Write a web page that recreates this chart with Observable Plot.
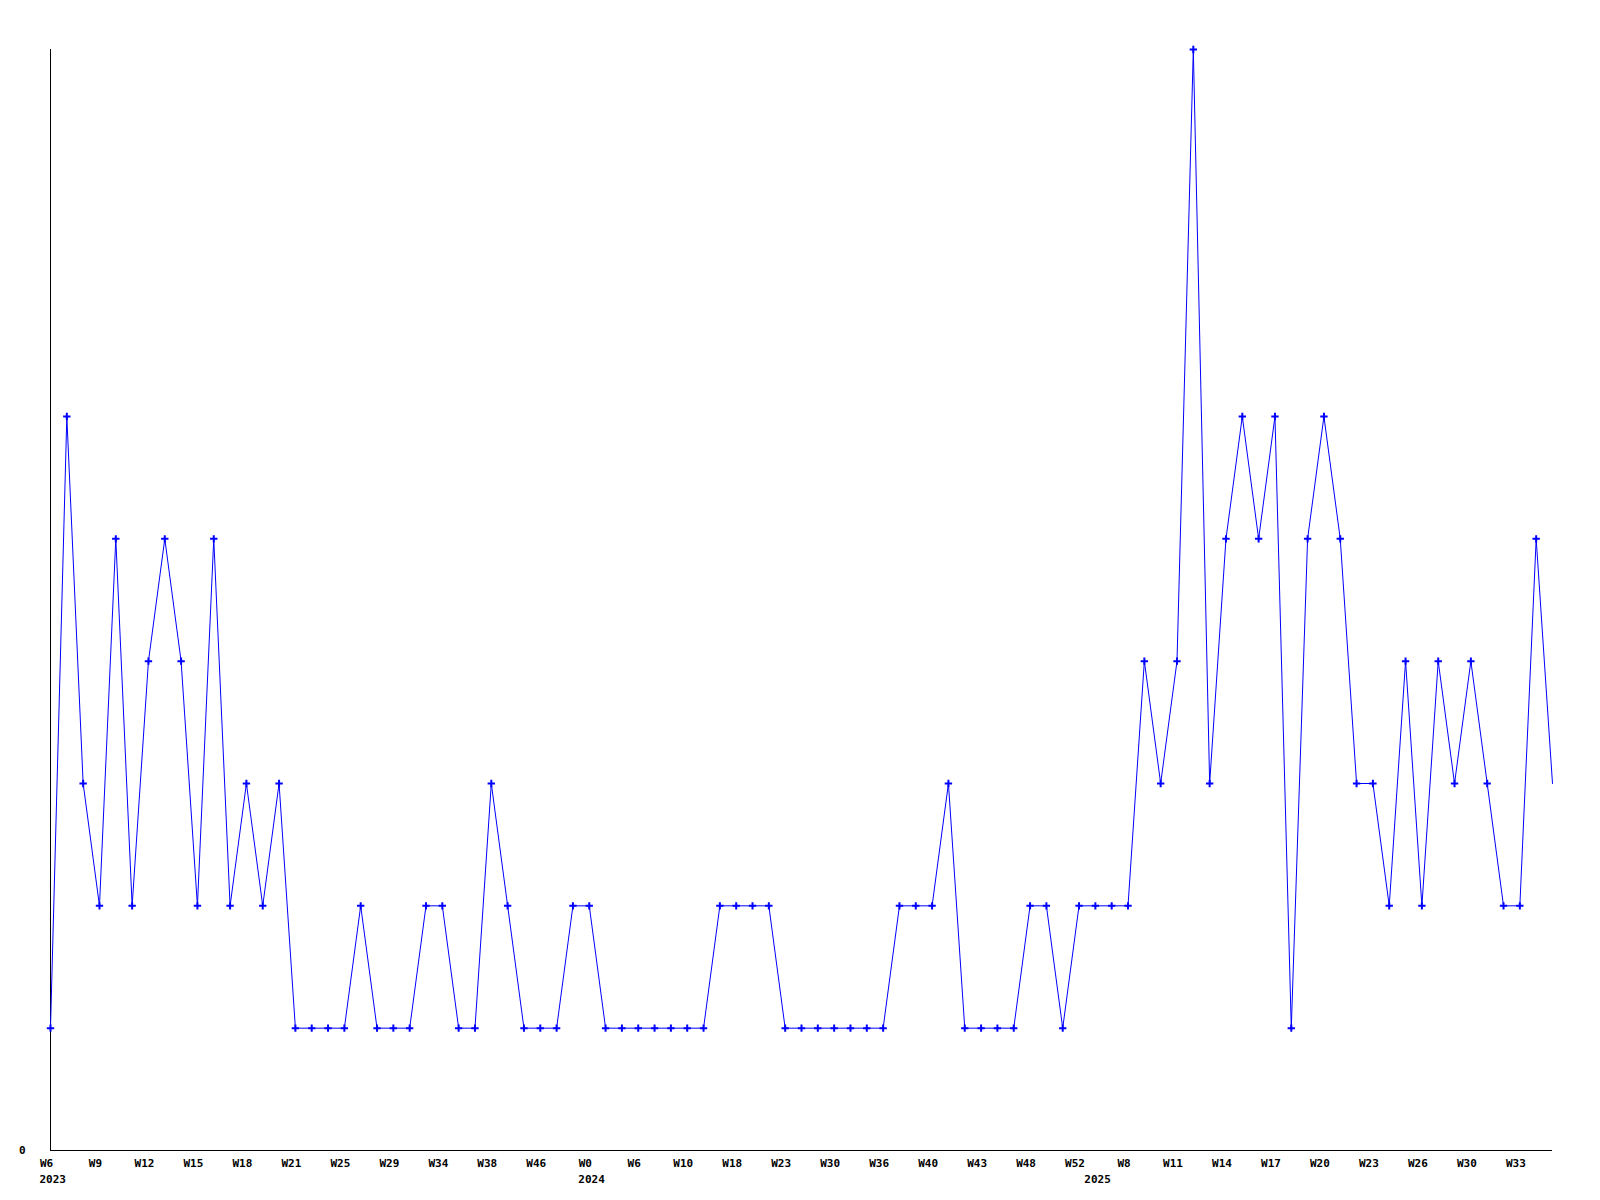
<!DOCTYPE html>
<html>
<head>
<meta charset="utf-8">
<script src="https://cdn.jsdelivr.net/npm/d3@7"></script>
<script src="https://cdn.jsdelivr.net/npm/@observablehq/plot@0.6"></script>
<style>
  html, body { margin: 0; padding: 0; background: #fff; }
  #chart svg { display: block; }
</style>
</head>
<body>
<div id="chart"></div>
<script>
// Week categories (year-week), in order of the points
const weeks = [
  "2023-W6","2023-W7","2023-W8","2023-W9","2023-W10","2023-W11","2023-W12","2023-W13","2023-W14","2023-W15",
  "2023-W16","2023-W17","2023-W18","2023-W19","2023-W20","2023-W21","2023-W22","2023-W24","2023-W25","2023-W26",
  "2023-W28","2023-W29","2023-W31","2023-W33","2023-W34","2023-W35","2023-W37","2023-W38","2023-W40","2023-W43",
  "2023-W46","2023-W48","2023-W51",
  "2024-W0","2024-W2","2024-W4","2024-W6","2024-W7","2024-W9","2024-W10","2024-W13","2024-W15","2024-W18",
  "2024-W20","2024-W22","2024-W23","2024-W25","2024-W28","2024-W30","2024-W32","2024-W34","2024-W36","2024-W37",
  "2024-W39","2024-W40","2024-W41","2024-W42","2024-W43","2024-W45","2024-W46","2024-W48","2024-W49","2024-W51",
  "2024-W52",
  "2025-W1","2025-W5","2025-W8","2025-W9","2025-W10","2025-W11","2025-W12","2025-W13","2025-W14","2025-W15",
  "2025-W16","2025-W17","2025-W18","2025-W19","2025-W20","2025-W21","2025-W22","2025-W23","2025-W24","2025-W25",
  "2025-W26","2025-W27","2025-W29","2025-W30","2025-W31","2025-W32","2025-W33","2025-W34","2025-W35"
];

// Counts per week
const counts = [
  1,6,3,2,5,2,4,5,4,2,
  5,2,3,2,3,1,1,1,1,2,
  1,1,1,2,2,1,1,3,2,1,
  1,1,2,
  2,1,1,1,1,1,1,1,2,2,
  2,2,1,1,1,1,1,1,1,2,
  2,2,3,1,1,1,1,2,2,1,
  2,
  2,2,2,4,3,4,9,3,5,6,
  5,6,1,5,6,5,3,3,2,4,
  2,4,3,4,3,2,2,5,3
];

// Tick labels shown on the x axis (every third week) and year markers
const tickWeeks = weeks.filter((d, i) => i % 3 === 0);
const yearStarts = ["2023-W6", "2024-W0", "2025-W1"];
const yearLabels = ["2023", "2024", "2025"];

const data = weeks.map((w, i) => ({week: w, count: counts[i]}));
const yearData = yearStarts.map((w, i) => ({week: w, year: yearLabels[i]}));

const blue = "#0000ff";
const font = "'DejaVu Sans Mono', 'Liberation Mono', monospace";

const chart = Plot.plot({
  width: 1600,
  height: 1200,
  marginLeft: 50,
  marginRight: 48,
  marginTop: 49,
  marginBottom: 50,
  style: {fontFamily: font, fontSize: "11px", fontWeight: "bold", background: "#fff", color: "#000"},
  x: {type: "point", domain: weeks, padding: 0, round: false},
  y: {domain: [0, 9], label: null},
  marks: [
    Plot.axisX({
      ticks: tickWeeks,
      tickSize: 0,
      tickPadding: 9,
      dx: -4,
      tickFormat: d => d.split("-")[1],
      label: null
    }),
    Plot.axisY({ticks: [0], tickSize: 0, tickPadding: 25, label: null, tickFormat: d => String(d)}),
    Plot.text(yearData, {
      x: "week",
      text: "year",
      frameAnchor: "bottom",
      textAnchor: "start",
      lineAnchor: "middle",
      dx: -11,
      dy: 29
    }),
    Plot.ruleY([0], {stroke: "#000", strokeWidth: 1}),
    Plot.ruleX([weeks[0]], {stroke: "#000", strokeWidth: 1}),
    Plot.line(data, {x: "week", y: "count", stroke: blue, strokeWidth: 1}),
    Plot.dot(data.slice(0, -1), {x: "week", y: "count", symbol: "plus", r: 2.5, stroke: blue, strokeWidth: 2})
  ]
});

document.getElementById("chart").appendChild(chart);
</script>
</body>
</html>
